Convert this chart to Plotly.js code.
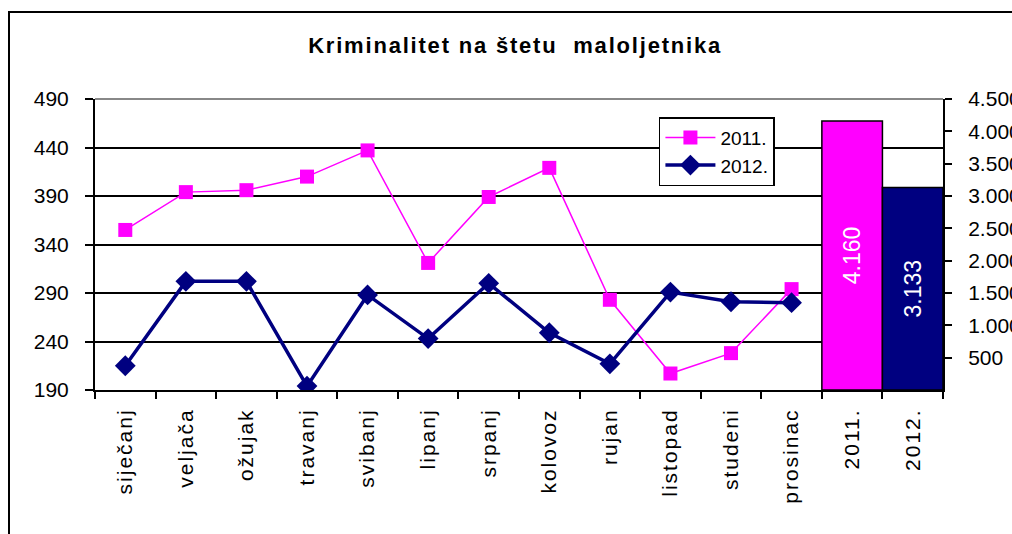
<!DOCTYPE html>
<html>
<head>
<meta charset="utf-8">
<script src="https://cdn.plot.ly/plotly-3.0.1.min.js"></script>
<style>
html,body{margin:0;padding:0;background:#fff;}
#chart{width:1012px;height:534px;}
#chart .gtitle{letter-spacing:1.8px;}
#chart .xtick text{letter-spacing:2px;}
</style>
</head>
<body>
<div id="chart"></div>
<script>
const months = ['siječanj','veljača','ožujak','travanj','svibanj','lipanj','srpanj','kolovoz','rujan','listopad','studeni','prosinac'];
const yearCats = ['2011.','2012.'];
const series2011 = [355, 394, 396, 410, 437, 321, 389, 419, 283, 207, 228, 294];
const series2012 = [215, 302, 302, 194, 288, 243, 300, 249, 217, 291, 281, 280];
const yearTotals = [4160, 3133];
const leftTicks = [190, 240, 290, 340, 390, 440, 490];
const rightTicks = [500, 1000, 1500, 2000, 2500, 3000, 3500, 4000, 4500];

const FONT = 'Liberation Sans, Arial, sans-serif';
const allCats = months.concat(yearCats);

const traces = [
  {
    type: 'bar', x: yearCats, y: yearTotals, yaxis: 'y2', width: 1,
    marker: {color: ['#FF00FF', '#000080'], line: {color: '#000', width: 1.5}},
    texttemplate: '%{y:,}', textposition: 'inside', insidetextanchor: 'middle',
    textangle: -90, textfont: {color: '#fff', size: 23, family: FONT},
    showlegend: false, hoverinfo: 'skip'
  },
  {
    type: 'scatter', mode: 'lines+markers', name: '2011.', x: months, y: series2011,
    line: {color: '#FF00FF', width: 1.5},
    marker: {symbol: 'square', size: 14, color: '#FF00FF'}
  },
  {
    type: 'scatter', mode: 'lines+markers', name: '2012.', x: months, y: series2012,
    line: {color: '#000080', width: 3.5},
    marker: {symbol: 'diamond', size: 16, color: '#000080'}
  }
];

const layout = {
  width: 1012, height: 534,
  margin: {l: 95, r: 69, t: 99, b: 144},
  paper_bgcolor: '#fff', plot_bgcolor: '#fff',
  separators: ',.',
  font: {family: FONT, color: '#000', size: 21},
  title: {
    text: '<b>Kriminalitet na štetu  maloljetnika</b>',
    font: {family: FONT, size: 22, color: '#000'},
    x: 0.509, xref: 'container', y: 1 - 45/534, yref: 'container', yanchor: 'middle'
  },
  showlegend: true,
  legend: {
    x: 0.665, y: 0.938, xanchor: 'left', yanchor: 'top',
    bgcolor: '#fff', bordercolor: '#000', borderwidth: 1.5,
    itemwidth: 50, tracegroupgap: 6,
    font: {family: FONT, size: 19, color: '#000'}
  },
  xaxis: {
    type: 'category', categoryorder: 'array', categoryarray: allCats,
    range: [-0.5, 13.5], tickangle: -90, tickson: 'boundaries',
    ticks: 'outside', ticklen: 7, tickwidth: 2, tickcolor: '#000',
    ticklabelstandoff: 8,
    showline: true, linecolor: '#000', linewidth: 2,
    showgrid: false, zeroline: false, fixedrange: true,
    tickfont: {family: FONT, size: 21, color: '#000'}
  },
  yaxis: {
    range: [190, 490], tickvals: leftTicks,
    ticks: 'outside', ticklen: 8, tickwidth: 2, tickcolor: '#000',
    ticklabelstandoff: 12,
    showline: true, linecolor: '#000', linewidth: 2,
    showgrid: true, gridcolor: '#000', gridwidth: 2,
    zeroline: false, fixedrange: true,
    tickfont: {family: FONT, size: 21, color: '#000'}
  },
  yaxis2: {
    overlaying: 'y', side: 'right', range: [0, 4500], tickvals: rightTicks,
    tickformat: ',', ticks: 'outside', ticklen: 7, tickwidth: 2, tickcolor: '#000',
    ticklabelstandoff: 12,
    showline: true, linecolor: '#000', linewidth: 2,
    showgrid: false, zeroline: false, fixedrange: true,
    tickfont: {family: FONT, size: 21, color: '#000'}
  },
  shapes: [
    {type: 'line', xref: 'paper', yref: 'paper', x0: 0, x1: 1, y0: 1, y1: 1,
     line: {color: '#888', width: 2}, layer: 'below'},
    {type: 'rect', xref: 'paper', yref: 'paper',
     x0: (9 - 95) / 848, x1: 2, y0: -2, y1: (390 - 12) / 291,
     line: {color: '#000', width: 2}, fillcolor: 'rgba(0,0,0,0)'}
  ]
};

Plotly.newPlot('chart', traces, layout, {displayModeBar: false, staticPlot: true});
</script>
</body>
</html>
